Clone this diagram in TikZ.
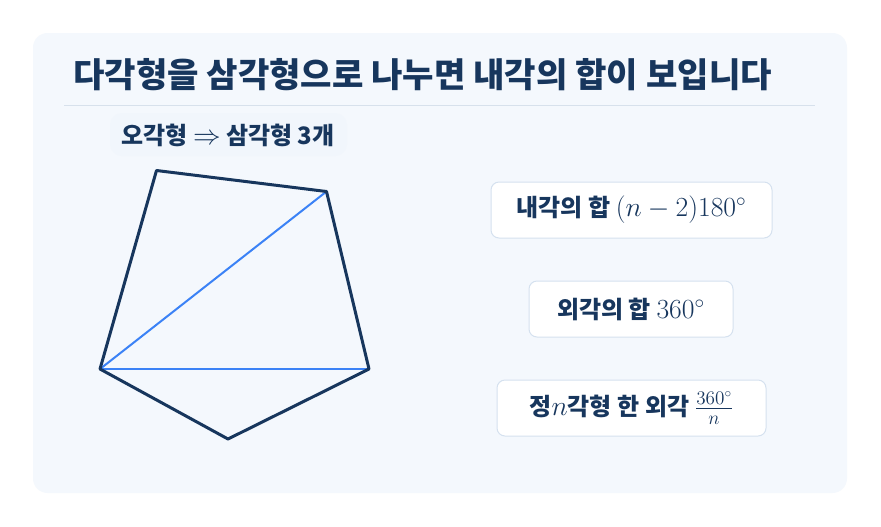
\documentclass[tikz,border=0pt]{standalone}
\usepackage[no-math]{fontspec}
\usepackage{amsmath,amssymb}
\newfontfamily\krfont{Noto Sans CJK KR}
\definecolor{navy}{HTML}{17365D}
\definecolor{cardbg}{HTML}{F4F8FD}
\definecolor{tagbg}{HTML}{F1F6FC}
\definecolor{rulecol}{HTML}{D7E1EC}
\definecolor{boxline}{HTML}{D5E1EF}
\definecolor{diagblue}{HTML}{3B82F6}
\tikzset{
  fact/.style={draw=boxline, line width=0.75pt, fill=white, rounded corners=6pt,
    minimum height=42pt, inner sep=0pt, text=navy, font=\krfont\bfseries\fontsize{18}{21}\selectfont},
  side/.style={draw=navy, line width=2.25pt, line join=round, line cap=round},
  diag/.style={draw=diagblue, line width=1.5pt, line cap=round}
}
\newcommand{\bigmath}[1]{{\fontsize{20}{23}\selectfont$#1$}}
\begin{document}
\begin{tikzpicture}[x=0.75pt,y=-0.75pt]
\useasboundingbox (0.000000,0.000000) rectangle (881.000000,526.000000);
\fill[white] (0.000000,0.000000) rectangle (881.000000,526.000000);
% Drawing card
\fill[cardbg, rounded corners=11pt] (33.000000,33.000000) rectangle (847.000000,493.000000);
% Title and rule
\node[anchor=west, inner sep=0pt, text=navy, font=\krfont\bfseries\fontsize{25.6}{30}\selectfont] (title) at (73.000000,75.000000) {다각형을 삼각형으로 나누면 내각의 합이 보입니다};
\draw[rulecol, line width=0.75pt] (64.000000,105.000000) -- (815.000000,105.000000);
% Tag above the pentagon
\fill[tagbg, rounded corners=9pt] (110.000000,113.000000) rectangle (347.000000,156.000000);
\node[inner sep=0pt, text=navy, font=\krfont\bfseries\fontsize{18}{21}\selectfont] (tag) at (228.000000,135.000000) {오각형 \bigmath{\Rightarrow} 삼각형 3개};
% Drawing pentagon corners
\coordinate (p1) at (156.500000,170.500000);
\coordinate (p2) at (326.500000,191.500000);
\coordinate (p3) at (369.000000,369.000000);
\coordinate (p4) at (228.000000,439.000000);
\coordinate (p5) at (100.000000,369.000000);
% Diagonals from p5
\draw[diag] (p5) -- (p2);
\draw[diag] (p5) -- (p3);
% Sides
\draw[side] (p1) -- (p2) -- (p3) -- (p4) -- (p5) -- cycle;
% Drawing fact boxes
\node[fact, minimum width=210.75pt] (inner) at (631.500000,210.000000) {내각의 합 \bigmath{(n-2)180^\circ}};
\node[fact, minimum width=153.00pt] (outer) at (631.000000,309.000000) {외각의 합 \bigmath{360^\circ}};
\node[fact, minimum width=201.75pt] (regular) at (631.500000,408.000000) {정\bigmath{n}각형 한 외각 \bigmath{\frac{360^\circ}{n}}};
\end{tikzpicture}
\end{document}
